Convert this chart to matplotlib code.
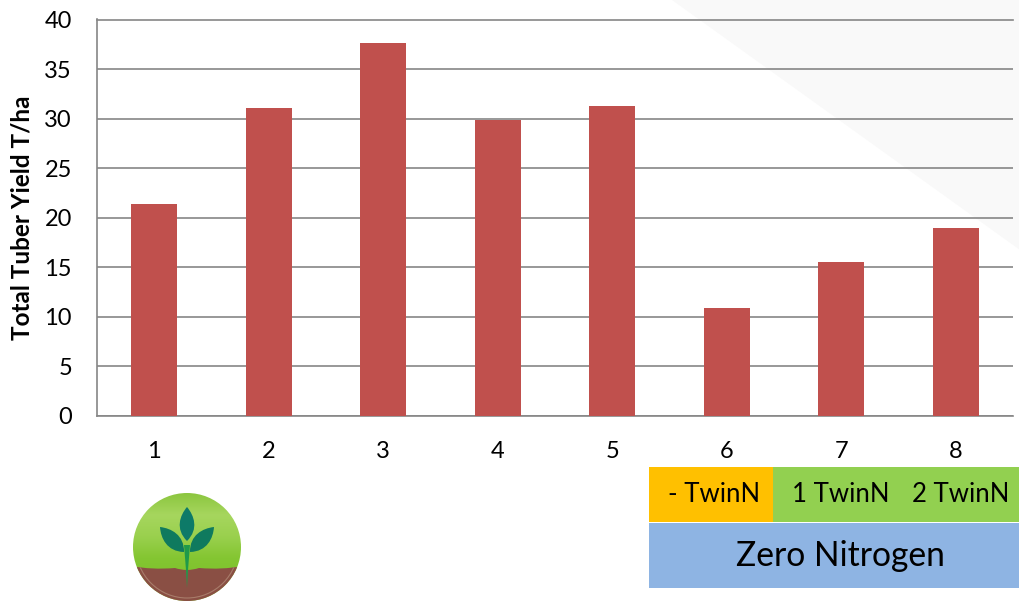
import numpy as np
import matplotlib
matplotlib.use('Agg')
import matplotlib.pyplot as plt
from matplotlib.colors import LinearSegmentedColormap
from matplotlib.patches import Circle, PathPatch, Polygon, Rectangle
from matplotlib.path import Path

plots = ['1', '2', '3', '4', '5', '6', '7', '8']
tuber_yield = [21.4, 31.1, 37.6, 29.9, 31.3, 10.9, 15.5, 19.0]
y_ticks = [0, 5, 10, 15, 20, 25, 30, 35, 40]

W, H = 1020, 602
plt.rcParams['font.family'] = ['Lato', 'DejaVu Sans']

fig = plt.figure(figsize=(W / 100, H / 100), dpi=100, facecolor='white')

# page layer in pixel coordinates, y pointing down
page = fig.add_axes([0, 0, 1, 1], zorder=0)
page.axis('off')
page.add_patch(Polygon([(672, 0), (1020, 0), (1020, 250)], closed=True,
                       fc='#f9f9f9', ec='none'))


def leaf(base, tip, width, color):
    # pointed leaf between two points, bulging both sides of the midrib
    base = np.array(base, float)
    tip = np.array(tip, float)
    d = tip - base
    n = np.array([-d[1], d[0]]) / np.hypot(*d) * width
    verts = [base, base + .35 * d + n, tip - .25 * d + .6 * n, tip,
             tip - .25 * d - .6 * n, base + .35 * d - n, base]
    codes = [Path.MOVETO] + [Path.CURVE4] * 6
    page.add_patch(PathPatch(Path(verts, codes), fc=color, ec='none', zorder=5))


# logo: glossy green disc with soil in the lower part
cx, cy, r = 187, 547, 54
disc = Circle((cx, cy), r, transform=page.transData, fc='none', ec='none')
page.add_patch(disc)
green = LinearSegmentedColormap.from_list(
    'logo', ['#8cc63f', '#a6d65e', '#9ad04e', '#84c632', '#7cc22c', '#86c832'])
shade = page.imshow(np.linspace(0, 1, 128).reshape(-1, 1), cmap=green, aspect='auto',
                    extent=(cx - r, cx + r, cy + r, cy - r), zorder=2)
shade.set_clip_path(disc)

soil = page.add_patch(PathPatch(Path(
    [(cx - r - 2, 566), (cx - 35, 570), (cx - 12, 568), (cx, 572),
     (cx + 12, 568), (cx + 35, 570), (cx + r + 2, 566),
     (cx + r + 2, cy + r + 2), (cx - r - 2, cy + r + 2), (cx - r - 2, 566)],
    [Path.MOVETO, Path.CURVE3, Path.CURVE3, Path.CURVE3, Path.CURVE3, Path.CURVE3, Path.CURVE3,
     Path.LINETO, Path.LINETO, Path.CLOSEPOLY]), fc='#8a4f44', ec='none', zorder=3))
soil.set_clip_path(disc)

rim = page.add_patch(Circle((cx, cy), r - 3, fc='none', ec='#a87c6a', lw=0.8, zorder=3))
rim.set_clip_path(soil.get_path(), soil.get_transform())

page.add_patch(Polygon([(184, 545), (190, 545), (188, 570), (187, 588), (186, 570)],
                       closed=True, fc='#1f9a4a', ec='none', zorder=4))
leaf((187, 541), (187, 507), 12, '#0d7a68')
leaf((184, 552), (160, 527), 12, '#0f7a5e')
leaf((190, 552), (214, 527), 12, '#0f7a5e')

# treatment key below the plot
key_boxes = [(649, 467, 124, 55, '#ffc000'),
             (773, 467, 247, 55, '#92d050'),
             (649, 523, 371, 65, '#8eb4e3')]
for x0, y0, w, h, col in key_boxes:
    page.add_patch(Rectangle((x0, y0), w, h, fc=col, ec='none', zorder=2))
page.text(714, 495, '- TwinN', fontsize=18.5, ha='center', va='center', zorder=6)
page.text(841, 495, '1 TwinN', fontsize=18.5, ha='center', va='center', zorder=6)
page.text(961, 495, '2 TwinN', fontsize=18.5, ha='center', va='center', zorder=6)
page.text(840, 556, 'Zero Nitrogen', fontsize=24.2, ha='center', va='center', zorder=6)

page.set_xlim(0, W)
page.set_ylim(H, 0)

# bar chart on top of the page layer
ax = fig.add_axes([97 / W, 1 - 416 / H, (1013 - 97) / W, (416 - 19.5) / H], zorder=1)
ax.patch.set_alpha(0)
x = np.arange(len(plots))
ax.bar(x, tuber_yield, width=0.4, color='#c0504d', zorder=3)

ax.set_xlim(-0.5, len(plots) - 0.5)
ax.set_ylim(0, 40)
ax.set_xticks(x, plots)
ax.set_yticks(y_ticks)
ax.tick_params(axis='both', length=0, labelsize=17, colors='black')
ax.tick_params(axis='x', pad=18)
ax.tick_params(axis='y', pad=18)
ax.grid(axis='y', color='#868686', lw=1.2, zorder=1)
ax.set_axisbelow(True)
ax.spines['right'].set_visible(False)
for side in ['left', 'bottom', 'top']:
    ax.spines[side].set_color('#868686')
    ax.spines[side].set_linewidth(1.2)

fig.text(22 / W, 1 - 218 / H, 'Total Tuber Yield T/ha', rotation=90, fontsize=17.5,
         fontweight='bold', ha='center', va='center')

fig.savefig('out.png', dpi=100)
